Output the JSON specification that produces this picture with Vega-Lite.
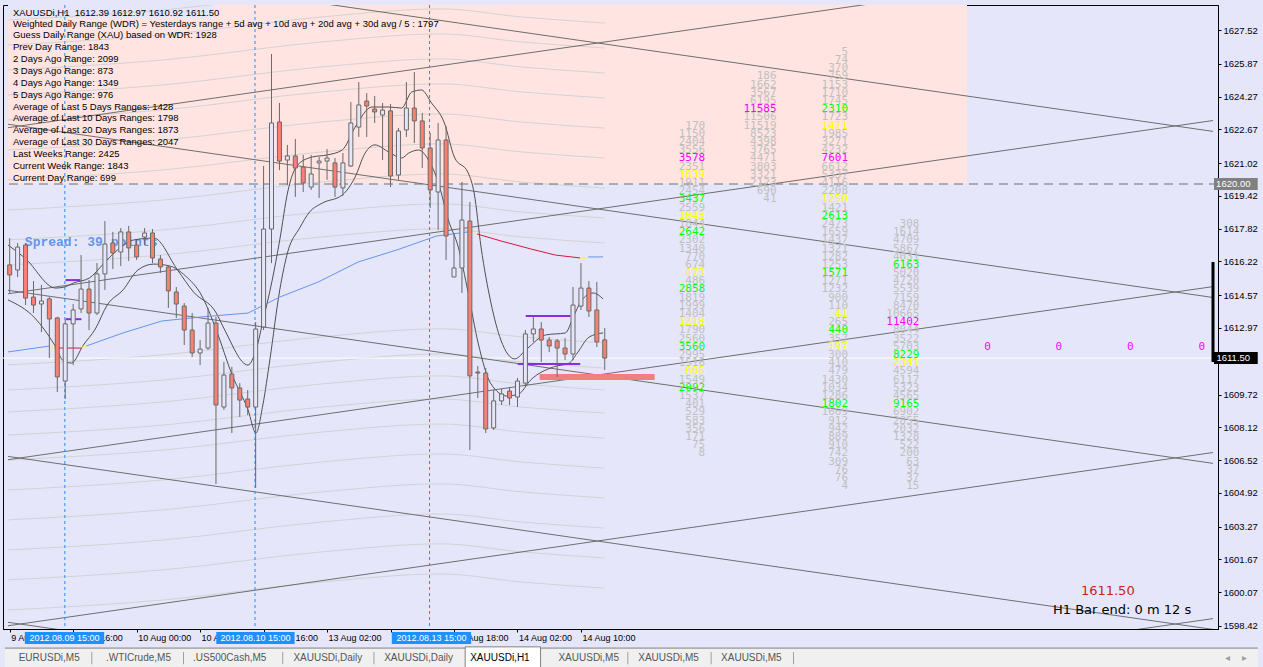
{
"$schema":"https://vega.github.io/schema/vega-lite/v6.json",
"width":1215,"height":624,
"autosize":{"type":"none"},
"padding":{"left":3,"top":5,"right":45,"bottom":38},
"background":"#E6E6FA",
"config":{"view":{"stroke":"#000000","strokeWidth":1,"fill":"#E6E6FA"},"text":{"font":"Liberation Sans"},"axis":{"labelOverlap":false,"labelBound":false,"labelFlush":false}},
"datasets":{
"candles":[
{"b":0,"o":1616.05,"h":1617.36,"l":1614.68,"c":1615.56},
{"b":1,"o":1615.80,"h":1617.12,"l":1615.46,"c":1616.92},
{"b":2,"o":1617.02,"h":1617.12,"l":1614.09,"c":1614.43},
{"b":3,"o":1614.48,"h":1615.26,"l":1613.70,"c":1614.09},
{"b":4,"o":1614.14,"h":1615.07,"l":1612.77,"c":1614.29},
{"b":5,"o":1614.39,"h":1614.48,"l":1611.50,"c":1613.41},
{"b":6,"o":1613.46,"h":1613.51,"l":1609.84,"c":1610.58},
{"b":7,"o":1610.38,"h":1613.36,"l":1609.50,"c":1613.17},
{"b":8,"o":1613.17,"h":1614.14,"l":1611.16,"c":1613.85},
{"b":9,"o":1613.90,"h":1616.53,"l":1613.70,"c":1614.87},
{"b":10,"o":1614.87,"h":1615.31,"l":1612.87,"c":1613.70},
{"b":11,"o":1613.70,"h":1616.14,"l":1613.60,"c":1615.61},
{"b":12,"o":1615.61,"h":1618.19,"l":1614.83,"c":1617.07},
{"b":13,"o":1617.12,"h":1617.66,"l":1615.85,"c":1616.63},
{"b":14,"o":1616.68,"h":1617.85,"l":1616.00,"c":1617.66},
{"b":15,"o":1617.66,"h":1617.95,"l":1616.24,"c":1616.88},
{"b":16,"o":1617.02,"h":1617.27,"l":1616.29,"c":1616.44},
{"b":17,"o":1617.41,"h":1617.85,"l":1617.02,"c":1617.61},
{"b":18,"o":1617.61,"h":1617.80,"l":1616.14,"c":1616.39},
{"b":19,"o":1616.34,"h":1616.53,"l":1615.66,"c":1615.95},
{"b":20,"o":1615.95,"h":1616.00,"l":1613.95,"c":1614.78},
{"b":21,"o":1614.73,"h":1614.97,"l":1613.46,"c":1614.14},
{"b":22,"o":1614.04,"h":1614.19,"l":1612.14,"c":1612.87},
{"b":23,"o":1612.87,"h":1613.70,"l":1611.55,"c":1611.75},
{"b":24,"o":1611.75,"h":1612.38,"l":1611.16,"c":1611.94},
{"b":25,"o":1611.99,"h":1613.95,"l":1611.90,"c":1613.21},
{"b":26,"o":1613.21,"h":1613.51,"l":1605.35,"c":1609.21},
{"b":27,"o":1609.11,"h":1611.31,"l":1608.97,"c":1610.67},
{"b":28,"o":1610.72,"h":1611.07,"l":1607.84,"c":1610.04},
{"b":29,"o":1610.04,"h":1610.28,"l":1608.62,"c":1609.45},
{"b":30,"o":1609.50,"h":1609.94,"l":1608.72,"c":1609.11},
{"b":31,"o":1609.11,"h":1613.26,"l":1605.16,"c":1612.92},
{"b":32,"o":1613.02,"h":1620.88,"l":1612.87,"c":1617.80},
{"b":33,"o":1617.80,"h":1626.35,"l":1616.14,"c":1622.98},
{"b":34,"o":1623.03,"h":1623.96,"l":1620.68,"c":1621.12},
{"b":35,"o":1621.17,"h":1621.91,"l":1619.95,"c":1621.37},
{"b":36,"o":1621.37,"h":1622.20,"l":1619.37,"c":1620.78},
{"b":37,"o":1620.83,"h":1621.42,"l":1619.61,"c":1620.05},
{"b":38,"o":1619.85,"h":1621.42,"l":1619.71,"c":1620.49},
{"b":39,"o":1621.03,"h":1621.32,"l":1619.32,"c":1621.12},
{"b":40,"o":1621.12,"h":1621.71,"l":1620.20,"c":1621.27},
{"b":41,"o":1621.03,"h":1621.27,"l":1619.37,"c":1619.85},
{"b":42,"o":1619.81,"h":1621.51,"l":1619.42,"c":1621.03},
{"b":43,"o":1620.88,"h":1624.00,"l":1620.83,"c":1622.98},
{"b":44,"o":1622.78,"h":1624.98,"l":1622.30,"c":1623.86},
{"b":45,"o":1624.05,"h":1624.44,"l":1622.30,"c":1623.81},
{"b":46,"o":1623.66,"h":1624.30,"l":1622.98,"c":1623.52},
{"b":47,"o":1623.37,"h":1623.96,"l":1621.17,"c":1623.61},
{"b":48,"o":1623.57,"h":1623.91,"l":1619.85,"c":1620.39},
{"b":49,"o":1620.44,"h":1622.74,"l":1620.20,"c":1622.59},
{"b":50,"o":1622.64,"h":1624.98,"l":1622.30,"c":1623.71},
{"b":51,"o":1623.71,"h":1625.47,"l":1622.00,"c":1623.08},
{"b":52,"o":1623.08,"h":1623.47,"l":1620.78,"c":1621.76},
{"b":53,"o":1621.76,"h":1622.49,"l":1618.83,"c":1619.71},
{"b":54,"o":1619.61,"h":1622.98,"l":1617.76,"c":1622.15},
{"b":55,"o":1622.15,"h":1622.83,"l":1616.29,"c":1617.46},
{"b":56,"o":1615.46,"h":1617.61,"l":1615.46,"c":1615.90},
{"b":57,"o":1615.90,"h":1620.10,"l":1614.68,"c":1618.24},
{"b":58,"o":1618.19,"h":1619.12,"l":1607.01,"c":1610.63},
{"b":59,"o":1610.82,"h":1611.11,"l":1609.55,"c":1610.77},
{"b":60,"o":1610.77,"h":1611.02,"l":1607.84,"c":1608.04},
{"b":61,"o":1608.09,"h":1609.94,"l":1607.99,"c":1609.41},
{"b":62,"o":1609.41,"h":1609.99,"l":1609.21,"c":1609.75},
{"b":63,"o":1609.89,"h":1610.09,"l":1609.21,"c":1609.55},
{"b":64,"o":1609.60,"h":1610.53,"l":1609.11,"c":1610.38},
{"b":65,"o":1610.28,"h":1612.87,"l":1610.09,"c":1612.68},
{"b":66,"o":1612.68,"h":1613.56,"l":1612.29,"c":1612.92},
{"b":67,"o":1612.92,"h":1613.26,"l":1611.31,"c":1612.38},
{"b":68,"o":1612.38,"h":1612.53,"l":1611.80,"c":1612.09},
{"b":69,"o":1612.34,"h":1612.43,"l":1610.58,"c":1611.99},
{"b":70,"o":1611.99,"h":1612.48,"l":1611.41,"c":1611.70},
{"b":71,"o":1611.70,"h":1614.97,"l":1611.41,"c":1614.09},
{"b":72,"o":1614.04,"h":1616.14,"l":1613.85,"c":1614.92},
{"b":73,"o":1614.92,"h":1615.26,"l":1613.51,"c":1613.80},
{"b":74,"o":1613.85,"h":1615.22,"l":1612.04,"c":1612.29},
{"b":75,"o":1612.39,"h":1612.97,"l":1610.92,"c":1611.50}
],
"bands":[
{"g":1,"b":-0.21,"p":1628.01},{"g":1,"b":19.4,"p":1628.50},{"g":1,"b":39.4,"p":1629.38},{"g":1,"b":54.4,"p":1629.77},{"g":1,"b":64.4,"p":1629.38},{"g":1,"b":75.0,"p":1629.08},
{"g":2,"b":-0.21,"p":1626.79},{"g":2,"b":19.4,"p":1627.28},{"g":2,"b":39.4,"p":1628.16},{"g":2,"b":54.4,"p":1628.55},{"g":2,"b":64.4,"p":1628.16},{"g":2,"b":75.0,"p":1627.86},
{"g":3,"b":-0.21,"p":1625.57},{"g":3,"b":19.4,"p":1626.06},{"g":3,"b":39.4,"p":1626.94},{"g":3,"b":54.4,"p":1627.33},{"g":3,"b":64.4,"p":1626.94},{"g":3,"b":75.0,"p":1626.64},
{"g":4,"b":-0.21,"p":1624.35},{"g":4,"b":19.4,"p":1624.84},{"g":4,"b":39.4,"p":1625.72},{"g":4,"b":54.4,"p":1626.11},{"g":4,"b":64.4,"p":1625.72},{"g":4,"b":75.0,"p":1625.42},
{"g":5,"b":-0.21,"p":1623.13},{"g":5,"b":19.4,"p":1623.62},{"g":5,"b":39.4,"p":1624.50},{"g":5,"b":54.4,"p":1624.89},{"g":5,"b":64.4,"p":1624.50},{"g":5,"b":75.0,"p":1624.20},
{"g":6,"b":-0.21,"p":1621.66},{"g":6,"b":19.4,"p":1622.15},{"g":6,"b":39.4,"p":1623.03},{"g":6,"b":54.4,"p":1623.42},{"g":6,"b":64.4,"p":1623.03},{"g":6,"b":75.0,"p":1622.73},
{"g":7,"b":-0.21,"p":1620.20},{"g":7,"b":19.4,"p":1620.69},{"g":7,"b":39.4,"p":1621.57},{"g":7,"b":54.4,"p":1621.96},{"g":7,"b":64.4,"p":1621.57},{"g":7,"b":75.0,"p":1621.27},
{"g":8,"b":-0.21,"p":1618.73},{"g":8,"b":19.4,"p":1619.22},{"g":8,"b":39.4,"p":1620.10},{"g":8,"b":54.4,"p":1620.49},{"g":8,"b":64.4,"p":1620.10},{"g":8,"b":75.0,"p":1619.80},
{"g":9,"b":-0.21,"p":1617.27},{"g":9,"b":19.4,"p":1617.76},{"g":9,"b":39.4,"p":1618.64},{"g":9,"b":54.4,"p":1619.03},{"g":9,"b":64.4,"p":1618.64},{"g":9,"b":75.0,"p":1618.34},
{"g":10,"b":-0.21,"p":1616.05},{"g":10,"b":19.4,"p":1616.54},{"g":10,"b":39.4,"p":1617.42},{"g":10,"b":54.4,"p":1617.81},{"g":10,"b":64.4,"p":1617.42},{"g":10,"b":75.0,"p":1617.12},
{"g":11,"b":-0.21,"p":1611.17},{"g":11,"b":19.4,"p":1611.66},{"g":11,"b":39.4,"p":1612.54},{"g":11,"b":54.4,"p":1612.93},{"g":11,"b":64.4,"p":1612.54},{"g":11,"b":75.0,"p":1612.24},
{"g":12,"b":-0.21,"p":1609.94},{"g":12,"b":19.4,"p":1610.43},{"g":12,"b":39.4,"p":1611.31},{"g":12,"b":54.4,"p":1611.70},{"g":12,"b":64.4,"p":1611.31},{"g":12,"b":75.0,"p":1611.01},
{"g":13,"b":-0.21,"p":1608.87},{"g":13,"b":19.4,"p":1609.36},{"g":13,"b":39.4,"p":1610.24},{"g":13,"b":54.4,"p":1610.63},{"g":13,"b":64.4,"p":1610.24},{"g":13,"b":75.0,"p":1609.94},
{"g":14,"b":-0.21,"p":1607.74},{"g":14,"b":19.4,"p":1608.23},{"g":14,"b":39.4,"p":1609.11},{"g":14,"b":54.4,"p":1609.50},{"g":14,"b":64.4,"p":1609.11},{"g":14,"b":75.0,"p":1608.81},
{"g":15,"b":-0.21,"p":1606.52},{"g":15,"b":19.4,"p":1607.01},{"g":15,"b":39.4,"p":1607.89},{"g":15,"b":54.4,"p":1608.28},{"g":15,"b":64.4,"p":1607.89},{"g":15,"b":75.0,"p":1607.59},
{"g":16,"b":-0.21,"p":1605.06},{"g":16,"b":19.4,"p":1605.55},{"g":16,"b":39.4,"p":1606.43},{"g":16,"b":54.4,"p":1606.82},{"g":16,"b":64.4,"p":1606.43},{"g":16,"b":75.0,"p":1606.13},
{"g":17,"b":-0.21,"p":1603.60},{"g":17,"b":19.4,"p":1604.09},{"g":17,"b":39.4,"p":1604.97},{"g":17,"b":54.4,"p":1605.36},{"g":17,"b":64.4,"p":1604.97},{"g":17,"b":75.0,"p":1604.67},
{"g":18,"b":-0.21,"p":1602.13},{"g":18,"b":19.4,"p":1602.62},{"g":18,"b":39.4,"p":1603.50},{"g":18,"b":54.4,"p":1603.89},{"g":18,"b":64.4,"p":1603.50},{"g":18,"b":75.0,"p":1603.20},
{"g":19,"b":-0.21,"p":1600.67},{"g":19,"b":19.4,"p":1601.16},{"g":19,"b":39.4,"p":1602.04},{"g":19,"b":54.4,"p":1602.43},{"g":19,"b":64.4,"p":1602.04},{"g":19,"b":75.0,"p":1601.74},
{"g":20,"b":-0.21,"p":1599.20},{"g":20,"b":19.4,"p":1599.69},{"g":20,"b":39.4,"p":1600.57},{"g":20,"b":54.4,"p":1600.96},{"g":20,"b":64.4,"p":1600.57},{"g":20,"b":75.0,"p":1600.27}
],
"gl":[
{"id":"r1","b":-0.2125,"p":1622.75},{"id":"r1","b":151.6625,"p":1631.20},
{"id":"r2","b":-0.2125,"p":1614.64},{"id":"r2","b":151.6625,"p":1623.10},
{"id":"r3","b":-0.2125,"p":1606.54},{"id":"r3","b":151.6625,"p":1614.99},
{"id":"r4","b":-0.2125,"p":1598.43},{"id":"r4","b":151.6625,"p":1606.89},
{"id":"r5","b":-0.2125,"p":1590.33},{"id":"r5","b":151.6625,"p":1598.78},
{"id":"f1","b":-0.2125,"p":1631.02},{"id":"f1","b":151.6625,"p":1622.57},
{"id":"f2","b":-0.2125,"p":1622.92},{"id":"f2","b":151.6625,"p":1614.46},
{"id":"f3","b":-0.2125,"p":1614.81},{"id":"f3","b":151.6625,"p":1606.36},
{"id":"f4","b":-0.2125,"p":1606.70},{"id":"f4","b":151.6625,"p":1598.25},
{"id":"f5","b":-0.2125,"p":1598.60},{"id":"f5","b":151.6625,"p":1590.15}
],
"ma":[
{"s":"U","b":-0.21,"p":1617.02},{"s":"U","b":1.91,"p":1616.39},{"s":"U","b":5.79,"p":1614.92},{"s":"U","b":6.91,"p":1614.97},{"s":"U","b":8.04,"p":1615.17},{"s":"U","b":10.04,"p":1615.41},{"s":"U","b":11.79,"p":1616.09},{"s":"U","b":13.29,"p":1616.68},{"s":"U","b":15.66,"p":1617.27},{"s":"U","b":18.16,"p":1617.36},{"s":"U","b":21.16,"p":1615.80},{"s":"U","b":23.16,"p":1614.73},{"s":"U","b":26.04,"p":1613.70},{"s":"U","b":27.04,"p":1612.92},{"s":"U","b":30.04,"p":1611.16},{"s":"U","b":31.04,"p":1611.90},{"s":"U","b":32.04,"p":1613.51},{"s":"U","b":33.04,"p":1615.22},{"s":"U","b":34.04,"p":1617.27},{"s":"U","b":35.04,"p":1619.61},{"s":"U","b":36.29,"p":1620.93},{"s":"U","b":38.16,"p":1621.32},{"s":"U","b":40.04,"p":1621.42},{"s":"U","b":41.91,"p":1621.66},{"s":"U","b":43.54,"p":1622.78},{"s":"U","b":45.66,"p":1623.76},{"s":"U","b":47.79,"p":1623.76},{"s":"U","b":49.41,"p":1623.71},{"s":"U","b":50.66,"p":1624.49},{"s":"U","b":51.91,"p":1624.59},{"s":"U","b":53.16,"p":1623.96},{"s":"U","b":54.79,"p":1622.98},{"s":"U","b":56.04,"p":1621.32},{"s":"U","b":57.79,"p":1620.54},{"s":"U","b":58.54,"p":1619.56},{"s":"U","b":59.41,"p":1616.92},{"s":"U","b":60.66,"p":1614.19},{"s":"U","b":61.91,"p":1612.38},{"s":"U","b":63.66,"p":1611.46},{"s":"U","b":65.16,"p":1611.94},{"s":"U","b":67.54,"p":1612.63},{"s":"U","b":70.04,"p":1612.73},{"s":"U","b":71.04,"p":1613.51},{"s":"U","b":72.04,"p":1614.29},{"s":"U","b":73.54,"p":1614.68},{"s":"U","b":74.79,"p":1614.39},
{"s":"L","b":-0.21,"p":1614.34},{"s":"L","b":3.16,"p":1613.46},{"s":"L","b":5.66,"p":1612.14},{"s":"L","b":6.79,"p":1611.36},{"s":"L","b":7.79,"p":1611.26},{"s":"L","b":9.29,"p":1612.14},{"s":"L","b":10.79,"p":1612.92},{"s":"L","b":12.29,"p":1614.09},{"s":"L","b":14.29,"p":1614.83},{"s":"L","b":16.16,"p":1615.80},{"s":"L","b":18.16,"p":1616.09},{"s":"L","b":20.16,"p":1616.00},{"s":"L","b":22.16,"p":1615.51},{"s":"L","b":24.16,"p":1614.58},{"s":"L","b":26.04,"p":1612.87},{"s":"L","b":28.04,"p":1610.67},{"s":"L","b":30.04,"p":1608.97},{"s":"L","b":31.04,"p":1607.84},{"s":"L","b":31.91,"p":1609.21},{"s":"L","b":32.79,"p":1611.41},{"s":"L","b":34.04,"p":1614.83},{"s":"L","b":35.04,"p":1616.68},{"s":"L","b":36.54,"p":1617.85},{"s":"L","b":37.79,"p":1618.63},{"s":"L","b":39.41,"p":1619.07},{"s":"L","b":41.91,"p":1619.46},{"s":"L","b":43.54,"p":1620.34},{"s":"L","b":44.79,"p":1621.51},{"s":"L","b":46.04,"p":1621.91},{"s":"L","b":47.79,"p":1621.56},{"s":"L","b":49.41,"p":1621.27},{"s":"L","b":50.29,"p":1621.51},{"s":"L","b":51.54,"p":1621.66},{"s":"L","b":52.79,"p":1621.17},{"s":"L","b":54.04,"p":1620.05},{"s":"L","b":55.29,"p":1618.24},{"s":"L","b":56.54,"p":1616.92},{"s":"L","b":57.79,"p":1614.68},{"s":"L","b":59.04,"p":1612.24},{"s":"L","b":60.66,"p":1610.24},{"s":"L","b":62.66,"p":1609.65},{"s":"L","b":64.16,"p":1609.75},{"s":"L","b":65.66,"p":1610.43},{"s":"L","b":68.54,"p":1611.07},{"s":"L","b":70.54,"p":1611.26},{"s":"L","b":71.54,"p":1611.75},{"s":"L","b":73.04,"p":1612.53},{"s":"L","b":74.79,"p":1612.73}
],
"bma":[
{"s":1,"k":"b","b":-0.2125,"p":1611.80},{"s":1,"k":"b","b":5.04,"p":1612.09},
{"s":2,"k":"y","b":5.04,"p":1612.04},{"s":2,"k":"y","b":5.66,"p":1612.04},
{"s":3,"k":"r","b":5.66,"p":1611.99},{"s":3,"k":"r","b":9.04,"p":1611.99},
{"s":4,"k":"y","b":9.04,"p":1612.04},{"s":4,"k":"y","b":9.66,"p":1612.04},
{"s":5,"k":"b","b":9.66,"p":1612.09},{"s":5,"k":"b","b":14.29,"p":1612.73},{"s":5,"k":"b","b":19.16,"p":1613.31},{"s":5,"k":"b","b":24.16,"p":1613.51},{"s":5,"k":"b","b":30.04,"p":1613.70},{"s":5,"k":"b","b":32.04,"p":1614.09},{"s":5,"k":"b","b":34.04,"p":1614.48},{"s":5,"k":"b","b":38.91,"p":1615.22},{"s":5,"k":"b","b":43.91,"p":1616.19},{"s":5,"k":"b","b":48.79,"p":1616.78},{"s":5,"k":"b","b":53.79,"p":1617.46},{"s":5,"k":"b","b":57.79,"p":1617.66},{"s":5,"k":"b","b":58.29,"p":1617.66},
{"s":6,"k":"y","b":58.29,"p":1617.61},{"s":6,"k":"y","b":58.91,"p":1617.56},
{"s":7,"k":"r","b":58.91,"p":1617.56},{"s":7,"k":"r","b":61.91,"p":1617.22},{"s":7,"k":"r","b":65.66,"p":1616.83},{"s":7,"k":"r","b":68.79,"p":1616.53},{"s":7,"k":"r","b":71.91,"p":1616.39},
{"s":8,"k":"y","b":71.91,"p":1616.39},{"s":8,"k":"y","b":72.79,"p":1616.39},
{"s":9,"k":"b","b":72.91,"p":1616.44},{"s":9,"k":"b","b":74.79,"p":1616.44}
],
"vol":[
{"b":87.66,"p":1622.85,"v":"170","c":"g"},{"b":87.66,"p":1622.45,"v":"1150","c":"g"},{"b":87.66,"p":1622.05,"v":"2404","c":"g"},{"b":87.66,"p":1621.65,"v":"3556","c":"g"},{"b":87.66,"p":1621.25,"v":"3578","c":"m"},{"b":87.66,"p":1620.85,"v":"2351","c":"g"},{"b":87.66,"p":1620.45,"v":"1839","c":"y"},{"b":87.66,"p":1620.05,"v":"1911","c":"g"},{"b":87.66,"p":1619.65,"v":"2454","c":"g"},{"b":87.66,"p":1619.25,"v":"3437","c":"l"},{"b":87.66,"p":1618.85,"v":"2559","c":"g"},{"b":87.66,"p":1618.45,"v":"1043","c":"y"},{"b":87.66,"p":1618.05,"v":"1844","c":"g"},{"b":87.66,"p":1617.65,"v":"2642","c":"l"},{"b":87.66,"p":1617.25,"v":"2302","c":"g"},{"b":87.66,"p":1616.85,"v":"1340","c":"g"},{"b":87.66,"p":1616.45,"v":"770","c":"g"},{"b":87.66,"p":1616.05,"v":"674","c":"g"},{"b":87.66,"p":1615.65,"v":"473","c":"y"},{"b":87.66,"p":1615.25,"v":"486","c":"g"},{"b":87.66,"p":1614.85,"v":"2858","c":"l"},{"b":87.66,"p":1614.45,"v":"1819","c":"g"},{"b":87.66,"p":1614.05,"v":"1999","c":"g"},{"b":87.66,"p":1613.65,"v":"1404","c":"g"},{"b":87.66,"p":1613.25,"v":"1218","c":"y"},{"b":87.66,"p":1612.85,"v":"1790","c":"g"},{"b":87.66,"p":1612.45,"v":"2560","c":"g"},{"b":87.66,"p":1612.05,"v":"3560","c":"l"},{"b":87.66,"p":1611.65,"v":"2995","c":"g"},{"b":87.66,"p":1611.25,"v":"1516","c":"g"},{"b":87.66,"p":1610.85,"v":"606","c":"y"},{"b":87.66,"p":1610.45,"v":"1549","c":"g"},{"b":87.66,"p":1610.05,"v":"2092","c":"l"},{"b":87.66,"p":1609.65,"v":"1537","c":"g"},{"b":87.66,"p":1609.25,"v":"401","c":"g"},{"b":87.66,"p":1608.85,"v":"529","c":"g"},{"b":87.66,"p":1608.45,"v":"583","c":"g"},{"b":87.66,"p":1608.05,"v":"356","c":"g"},{"b":87.66,"p":1607.65,"v":"171","c":"g"},{"b":87.66,"p":1607.25,"v":"75","c":"g"},{"b":87.66,"p":1606.85,"v":"8","c":"g"},
{"b":96.66,"p":1625.25,"v":"186","c":"g"},{"b":96.66,"p":1624.85,"v":"1662","c":"g"},{"b":96.66,"p":1624.45,"v":"3567","c":"g"},{"b":96.66,"p":1624.05,"v":"6195","c":"g"},{"b":96.66,"p":1623.65,"v":"11585","c":"m"},{"b":96.66,"p":1623.25,"v":"11506","c":"g"},{"b":96.66,"p":1622.85,"v":"11519","c":"g"},{"b":96.66,"p":1622.45,"v":"8523","c":"g"},{"b":96.66,"p":1622.05,"v":"4398","c":"g"},{"b":96.66,"p":1621.65,"v":"3765","c":"g"},{"b":96.66,"p":1621.25,"v":"4471","c":"g"},{"b":96.66,"p":1620.85,"v":"3803","c":"g"},{"b":96.66,"p":1620.45,"v":"3321","c":"g"},{"b":96.66,"p":1620.05,"v":"2123","c":"g"},{"b":96.66,"p":1619.65,"v":"690","c":"g"},{"b":96.66,"p":1619.25,"v":"41","c":"g"},
{"b":105.66,"p":1626.45,"v":"5","c":"g"},{"b":105.66,"p":1626.05,"v":"74","c":"g"},{"b":105.66,"p":1625.65,"v":"370","c":"g"},{"b":105.66,"p":1625.25,"v":"759","c":"g"},{"b":105.66,"p":1624.85,"v":"1153","c":"g"},{"b":105.66,"p":1624.45,"v":"1710","c":"g"},{"b":105.66,"p":1624.05,"v":"1745","c":"g"},{"b":105.66,"p":1623.65,"v":"2310","c":"l"},{"b":105.66,"p":1623.25,"v":"1723","c":"g"},{"b":105.66,"p":1622.85,"v":"1471","c":"y"},{"b":105.66,"p":1622.45,"v":"1985","c":"g"},{"b":105.66,"p":1622.05,"v":"3271","c":"g"},{"b":105.66,"p":1621.65,"v":"4232","c":"g"},{"b":105.66,"p":1621.25,"v":"7601","c":"m"},{"b":105.66,"p":1620.85,"v":"6612","c":"g"},{"b":105.66,"p":1620.45,"v":"5337","c":"g"},{"b":105.66,"p":1620.05,"v":"4116","c":"g"},{"b":105.66,"p":1619.65,"v":"2208","c":"g"},{"b":105.66,"p":1619.25,"v":"1250","c":"y"},{"b":105.66,"p":1618.85,"v":"1421","c":"g"},{"b":105.66,"p":1618.45,"v":"2613","c":"l"},{"b":105.66,"p":1618.05,"v":"2473","c":"g"},{"b":105.66,"p":1617.65,"v":"1659","c":"g"},{"b":105.66,"p":1617.25,"v":"1437","c":"g"},{"b":105.66,"p":1616.85,"v":"1321","c":"g"},{"b":105.66,"p":1616.45,"v":"1282","c":"g"},{"b":105.66,"p":1616.05,"v":"1253","c":"g"},{"b":105.66,"p":1615.65,"v":"1571","c":"l"},{"b":105.66,"p":1615.25,"v":"1271","c":"g"},{"b":105.66,"p":1614.85,"v":"1232","c":"g"},{"b":105.66,"p":1614.45,"v":"900","c":"g"},{"b":105.66,"p":1614.05,"v":"110","c":"g"},{"b":105.66,"p":1613.65,"v":"41","c":"y"},{"b":105.66,"p":1613.25,"v":"265","c":"g"},{"b":105.66,"p":1612.85,"v":"440","c":"l"},{"b":105.66,"p":1612.45,"v":"357","c":"g"},{"b":105.66,"p":1612.05,"v":"197","c":"y"},{"b":105.66,"p":1611.65,"v":"300","c":"g"},{"b":105.66,"p":1611.25,"v":"410","c":"g"},{"b":105.66,"p":1610.85,"v":"479","c":"g"},{"b":105.66,"p":1610.45,"v":"1430","c":"g"},{"b":105.66,"p":1610.05,"v":"1034","c":"g"},{"b":105.66,"p":1609.65,"v":"1286","c":"g"},{"b":105.66,"p":1609.25,"v":"1802","c":"l"},{"b":105.66,"p":1608.85,"v":"1669","c":"g"},{"b":105.66,"p":1608.45,"v":"912","c":"g"},{"b":105.66,"p":1608.05,"v":"942","c":"g"},{"b":105.66,"p":1607.65,"v":"889","c":"g"},{"b":105.66,"p":1607.25,"v":"910","c":"g"},{"b":105.66,"p":1606.85,"v":"742","c":"g"},{"b":105.66,"p":1606.45,"v":"309","c":"g"},{"b":105.66,"p":1606.05,"v":"76","c":"g"},{"b":105.66,"p":1605.65,"v":"76","c":"g"},{"b":105.66,"p":1605.25,"v":"4","c":"g"},
{"b":114.66,"p":1618.05,"v":"308","c":"g"},{"b":114.66,"p":1617.65,"v":"1614","c":"g"},{"b":114.66,"p":1617.25,"v":"4709","c":"g"},{"b":114.66,"p":1616.85,"v":"5867","c":"g"},{"b":114.66,"p":1616.45,"v":"4031","c":"g"},{"b":114.66,"p":1616.05,"v":"6163","c":"l"},{"b":114.66,"p":1615.65,"v":"5020","c":"g"},{"b":114.66,"p":1615.25,"v":"4720","c":"g"},{"b":114.66,"p":1614.85,"v":"5539","c":"g"},{"b":114.66,"p":1614.45,"v":"7159","c":"g"},{"b":114.66,"p":1614.05,"v":"8470","c":"g"},{"b":114.66,"p":1613.65,"v":"10665","c":"g"},{"b":114.66,"p":1613.25,"v":"11402","c":"m"},{"b":114.66,"p":1612.85,"v":"8044","c":"g"},{"b":114.66,"p":1612.45,"v":"3522","c":"g"},{"b":114.66,"p":1612.05,"v":"5703","c":"g"},{"b":114.66,"p":1611.65,"v":"8229","c":"l"},{"b":114.66,"p":1611.25,"v":"2341","c":"y"},{"b":114.66,"p":1610.85,"v":"4594","c":"g"},{"b":114.66,"p":1610.45,"v":"6117","c":"g"},{"b":114.66,"p":1610.05,"v":"5323","c":"g"},{"b":114.66,"p":1609.65,"v":"4565","c":"g"},{"b":114.66,"p":1609.25,"v":"9165","c":"l"},{"b":114.66,"p":1608.85,"v":"6902","c":"g"},{"b":114.66,"p":1608.45,"v":"2855","c":"g"},{"b":114.66,"p":1608.05,"v":"2032","c":"g"},{"b":114.66,"p":1607.65,"v":"1328","c":"g"},{"b":114.66,"p":1607.25,"v":"522","c":"g"},{"b":114.66,"p":1606.85,"v":"200","c":"g"},{"b":114.66,"p":1606.45,"v":"63","c":"g"},{"b":114.66,"p":1606.05,"v":"37","c":"g"},{"b":114.66,"p":1605.65,"v":"37","c":"g"},{"b":114.66,"p":1605.25,"v":"15","c":"g"},
{"b":123.66,"p":1612.05,"v":"0","c":"m"},{"b":132.66,"p":1612.05,"v":"0","c":"m"},{"b":141.66,"p":1612.05,"v":"0","c":"m"},{"b":150.66,"p":1612.05,"v":"0","c":"m"}
],
"info":[
{"b":0.41,"p":1628.35,"t":"XAUUSDi,H1\u00a0 1612.39 1612.97 1610.92 1611.50"},
{"b":0.41,"p":1627.83,"t":"Weighted Daily Range (WDR) = Yesterdays range + 5d avg + 10d avg + 20d avg + 30d avg / 5 : 1797"},
{"b":0.41,"p":1627.26,"t":"Guess Daily Range (XAU) based on WDR: 1928"},
{"b":0.41,"p":1626.68,"t":"Prev Day Range: 1843"},
{"b":0.41,"p":1626.10,"t":"2 Days Ago Range: 2099"},
{"b":0.41,"p":1625.52,"t":"3 Days Ago Range: 873"},
{"b":0.41,"p":1624.94,"t":"4 Days Ago Range: 1349"},
{"b":0.41,"p":1624.36,"t":"5 Days Ago Range: 976"},
{"b":0.41,"p":1623.78,"t":"Average of Last 5 Days Ranges: 1428"},
{"b":0.41,"p":1623.20,"t":"Average of Last 10 Days Ranges: 1798"},
{"b":0.41,"p":1622.62,"t":"Average of Last 20 Days Ranges: 1873"},
{"b":0.41,"p":1622.04,"t":"Average of Last 30 Days Ranges: 2047"},
{"b":0.41,"p":1621.47,"t":"Last Weeks Range: 2425"},
{"b":0.41,"p":1620.88,"t":"Current Week Range: 1843"},
{"b":0.41,"p":1620.31,"t":"Current Day Range: 699"}
],
"pbox":[
{"b":151.79,"b2":157.3,"p":1620.29,"p2":1619.71,"m":154.22,"q":1620.0,"t":"1620.00","k":"g"},
{"b":151.79,"b2":157.3,"p":1611.80,"p2":1611.21,"m":154.22,"q":1611.5,"t":"1611.50","k":"k"}
],
"tbox":[
{"b":1.91,"b2":11.91,"m":6.91,"p":1598.13,"p2":1597.54,"q":1597.83,"t":"2012.08.09 15:00"},
{"b":26.04,"b2":35.91,"m":30.98,"p":1598.13,"p2":1597.54,"q":1597.83,"t":"2012.08.10 15:00"},
{"b":48.16,"b2":58.16,"m":53.16,"p":1598.13,"p2":1597.54,"q":1597.83,"t":"2012.08.13 15:00"}
],
"tabs":[
{"m":4.98,"t":"EURUSDi,M5","a":0},{"m":16.23,"t":".WTICrude,M5","a":0},{"m":27.73,"t":".US500Cash,M5","a":0},{"m":40.1,"t":"XAUUSDi,Daily","a":0},{"m":51.54,"t":"XAUUSDi,Daily","a":0},{"m":61.79,"t":"XAUUSDi,H1","a":1},{"m":72.98,"t":"XAUUSDi,M5","a":0},{"m":83.04,"t":"XAUUSDi,M5","a":0},{"m":93.48,"t":"XAUUSDi,M5","a":0},{"m":153.54,"t":"◂","a":2},{"m":155.66,"t":"▸","a":2}
]
},
"layer":[
{"data":{"values":[{"b":-0.2125,"b2":120.66,"p":1620,"p2":1628.741}]},
 "mark":{"type":"rect","fill":"#FFE4E1"},
 "encoding":{
  "x":{"field":"b","type":"quantitative","scale":{"domain":[-0.2125,151.6625]},"title":null,
   "axis":{"orient":"bottom","values":[0,8,16,24,32,40,48,56,64,72],"tickCount":40,
    "labelExpr":"['9 Aug 08:00','9 Aug 16:00','10 Aug 00:00','10 Aug 08:00','10 Aug 16:00','13 Aug 02:00','13 Aug 10:00','13 Aug 18:00','14 Aug 02:00','14 Aug 10:00'][datum.value/8]",
    "labelAlign":"left","labelBaseline":"top","labelOffset":1,"labelPadding":1,"tickSize":3,"tickColor":"#000000","domainColor":"#000000","labelColor":"#000000","labelFont":"Liberation Sans","labelFontSize":9,"labelOverlap":false,"labelBound":false,"labelFlush":false,"grid":false,"zindex":0}},
  "x2":{"field":"b2"},
  "y":{"field":"p","type":"quantitative","scale":{"domain":[1598.272,1628.741]},"title":null,
   "axis":{"orient":"right","values":[1598.42,1600.07,1601.67,1603.27,1604.92,1606.52,1608.12,1609.72,1611.37,1612.97,1614.57,1616.22,1617.82,1619.42,1621.02,1622.67,1624.27,1625.87,1627.52],"tickCount":40,
    "format":".2f","tickSize":3,"tickColor":"#000000","domainColor":"#000000","labelColor":"#000000","labelFont":"Liberation Sans","labelFontSize":9.5,"labelPadding":2,"labelOverlap":false,"labelBound":false,"labelFlush":false,"grid":false,"zindex":0}},
  "y2":{"field":"p2"}}},
{"data":{"values":[{"b":-0.2125,"b2":25.8,"p":1628.11,"p2":1628.741}]},
 "mark":{"type":"rect","fill":"#E6E6FA"},
 "encoding":{"x":{"field":"b","type":"quantitative","scale":{"domain":[-0.2125,151.6625]},"title":null},"x2":{"field":"b2"},"y":{"field":"p","type":"quantitative","scale":{"domain":[1598.272,1628.741]},"title":null},"y2":{"field":"p2"}}},
{"data":{"name":"bands"},
 "mark":{"type":"line","stroke":"#D3D3D3","strokeWidth":1,"interpolate":"monotone","clip":true},
 "encoding":{"x":{"field":"b","type":"quantitative","scale":{"domain":[-0.2125,151.6625]},"title":null},"y":{"field":"p","type":"quantitative","scale":{"domain":[1598.272,1628.741]},"title":null},"detail":{"field":"g","type":"nominal"}}},
{"data":{"values":[{"p":1611.5}]},
 "mark":{"type":"rule","stroke":"#FFFFFF","strokeWidth":1},
 "encoding":{"y":{"field":"p","type":"quantitative","scale":{"domain":[1598.272,1628.741]},"title":null}}},
{"data":{"name":"gl"},
 "mark":{"type":"line","stroke":"#6E6E6E","strokeWidth":1,"clip":true},
 "encoding":{"x":{"field":"b","type":"quantitative","scale":{"domain":[-0.2125,151.6625]},"title":null},"y":{"field":"p","type":"quantitative","scale":{"domain":[1598.272,1628.741]},"title":null},"detail":{"field":"id","type":"nominal"}}},
{"data":{"values":[{"p":1620}]},
 "mark":{"type":"rule","stroke":"#6E6E6E","strokeWidth":1,"strokeDash":[9,6]},
 "encoding":{"y":{"field":"p","type":"quantitative","scale":{"domain":[1598.272,1628.741]},"title":null}}},
{"data":{"values":[{"b":6.95},{"b":30.92},{"b":52.92}]},
 "mark":{"type":"rule","stroke":"#1E90FF","strokeWidth":1,"strokeDash":[3,3]},
 "encoding":{"x":{"field":"b","type":"quantitative","scale":{"domain":[-0.2125,151.6625]},"title":null}}},
{"data":{"name":"info"},
 "mark":{"type":"text","align":"left","baseline":"middle","font":"Liberation Sans","fontSize":9.5,"fill":"#000000"},
 "encoding":{"x":{"field":"b","type":"quantitative","scale":{"domain":[-0.2125,151.6625]},"title":null},"y":{"field":"p","type":"quantitative","scale":{"domain":[1598.272,1628.741]},"title":null},"text":{"field":"t"}}},
{"data":{"values":[{"b":1.91,"p":1617.16,"t":"Spread: 39 points"}]},
 "mark":{"type":"text","align":"left","baseline":"middle","font":"Liberation Mono","fontSize":13,"fontWeight":"bold","fill":"#6495ED"},
 "encoding":{"x":{"field":"b","type":"quantitative","scale":{"domain":[-0.2125,151.6625]},"title":null},"y":{"field":"p","type":"quantitative","scale":{"domain":[1598.272,1628.741]},"title":null},"text":{"field":"t"}}},
{"data":{"name":"vol"},
 "mark":{"type":"text","align":"right","baseline":"middle","font":"DejaVu Sans Mono","fontSize":11},
 "encoding":{"x":{"field":"b","type":"quantitative","scale":{"domain":[-0.2125,151.6625]},"title":null},"y":{"field":"p","type":"quantitative","scale":{"domain":[1598.272,1628.741]},"title":null},"text":{"field":"v"},
  "fill":{"field":"c","type":"nominal","scale":{"domain":["g","m","y","l"],"range":["#C0C0C0","#FF00FF","#FFFF00","#00FF00"]},"legend":null}}},
{"data":{"name":"ma"},
 "mark":{"type":"line","stroke":"#505050","strokeWidth":1,"interpolate":"monotone"},
 "encoding":{"x":{"field":"b","type":"quantitative","scale":{"domain":[-0.2125,151.6625]},"title":null},"y":{"field":"p","type":"quantitative","scale":{"domain":[1598.272,1628.741]},"title":null},"detail":{"field":"s","type":"nominal"}}},
{"data":{"name":"bma"},
 "mark":{"type":"line","strokeWidth":1},
 "encoding":{"x":{"field":"b","type":"quantitative","scale":{"domain":[-0.2125,151.6625]},"title":null},"y":{"field":"p","type":"quantitative","scale":{"domain":[1598.272,1628.741]},"title":null},"detail":{"field":"s","type":"nominal"},
  "stroke":{"field":"k","type":"nominal","scale":{"domain":["b","y","r"],"range":["#6495ED","#FFFF00","#DC143C"]},"legend":null}}},
{"data":{"values":[
  {"s":1,"b":7.04,"p":1615.31},{"s":1,"b":8.91,"p":1615.31},
  {"s":2,"b":7.04,"p":1613.40},{"s":2,"b":9.04,"p":1613.40},
  {"s":3,"b":65.04,"p":1613.56},{"s":3,"b":70.66,"p":1613.56},
  {"s":4,"b":64.04,"p":1611.21},{"s":4,"b":71.91,"p":1611.21}]},
 "mark":{"type":"line","stroke":"#8A2BE2","strokeWidth":2},
 "encoding":{"x":{"field":"b","type":"quantitative","scale":{"domain":[-0.2125,151.6625]},"title":null},"y":{"field":"p","type":"quantitative","scale":{"domain":[1598.272,1628.741]},"title":null},"detail":{"field":"s","type":"nominal"}}},
{"data":{"values":[{"b":66.79,"b2":81.29,"p":1610.72,"p2":1610.43}]},
 "mark":{"type":"rect","fill":"#F08080"},
 "encoding":{"x":{"field":"b","type":"quantitative","scale":{"domain":[-0.2125,151.6625]},"title":null},"x2":{"field":"b2"},"y":{"field":"p","type":"quantitative","scale":{"domain":[1598.272,1628.741]},"title":null},"y2":{"field":"p2"}}},
{"data":{"name":"candles"},
 "mark":{"type":"rule","stroke":"#696969","strokeWidth":1,"clip":true},
 "encoding":{"x":{"field":"b","type":"quantitative","scale":{"domain":[-0.2125,151.6625]},"title":null},"y":{"field":"l","type":"quantitative","scale":{"domain":[1598.272,1628.741]},"title":null},"y2":{"field":"h"}}},
{"data":{"name":"candles"},
 "mark":{"type":"bar","width":4,"stroke":"#696969","strokeWidth":1,"clip":true},
 "encoding":{"x":{"field":"b","type":"quantitative","scale":{"domain":[-0.2125,151.6625]},"title":null},"y":{"field":"o","type":"quantitative","scale":{"domain":[1598.272,1628.741]},"title":null},"y2":{"field":"c"},
  "fill":{"condition":{"test":"datum.c < datum.o","value":"#FA8072"},"value":"#E6E6FA"}}},
{"data":{"values":[{"b":138.4,"p":1600.13,"t":"1611.50","k":"r"},{"b":140.2,"p":1599.2,"t":"H1 Bar end: 0 m 12 s","k":"k"}]},
 "mark":{"type":"text","align":"center","baseline":"middle","font":"DejaVu Sans","fontSize":13},
 "encoding":{"x":{"field":"b","type":"quantitative","scale":{"domain":[-0.2125,151.6625]},"title":null},"y":{"field":"p","type":"quantitative","scale":{"domain":[1598.272,1628.741]},"title":null},"text":{"field":"t"},
  "fill":{"condition":{"test":"datum.k=='r'","value":"#C81E1E"},"value":"#000000"}}},
{"data":{"values":[{"b":151.6625,"p":1611.31,"p2":1616.19}]},
 "mark":{"type":"rule","stroke":"#000000","strokeWidth":3},
 "encoding":{"x":{"field":"b","type":"quantitative","scale":{"domain":[-0.2125,151.6625]},"title":null},"y":{"field":"p","type":"quantitative","scale":{"domain":[1598.272,1628.741]},"title":null},"y2":{"field":"p2"}}},
{"data":{"name":"pbox"},
 "mark":{"type":"rect"},
 "encoding":{"x":{"field":"b","type":"quantitative","scale":{"domain":[-0.2125,151.6625]},"title":null},"x2":{"field":"b2"},"y":{"field":"p","type":"quantitative","scale":{"domain":[1598.272,1628.741]},"title":null},"y2":{"field":"p2"},
  "fill":{"condition":{"test":"datum.k=='g'","value":"#808080"},"value":"#000000"}}},
{"data":{"name":"pbox"},
 "mark":{"type":"text","align":"center","baseline":"middle","font":"Liberation Sans","fontSize":9.5,"fill":"#FFFFFF"},
 "encoding":{"x":{"field":"m","type":"quantitative","scale":{"domain":[-0.2125,151.6625]},"title":null},"y":{"field":"q","type":"quantitative","scale":{"domain":[1598.272,1628.741]},"title":null},"text":{"field":"t"}}},
{"data":{"name":"tbox"},
 "mark":{"type":"rect","fill":"#1E90FF"},
 "encoding":{"x":{"field":"b","type":"quantitative","scale":{"domain":[-0.2125,151.6625]},"title":null},"x2":{"field":"b2"},"y":{"field":"p","type":"quantitative","scale":{"domain":[1598.272,1628.741]},"title":null},"y2":{"field":"p2"}}},
{"data":{"name":"tbox"},
 "mark":{"type":"text","align":"center","baseline":"middle","font":"Liberation Sans","fontSize":9,"fill":"#FFFFFF"},
 "encoding":{"x":{"field":"m","type":"quantitative","scale":{"domain":[-0.2125,151.6625]},"title":null},"y":{"field":"q","type":"quantitative","scale":{"domain":[1598.272,1628.741]},"title":null},"text":{"field":"t"}}},
{"data":{"values":[{"b":-0.6,"b2":157.3,"p":1597.34,"p2":1595.9}]},
 "mark":{"type":"rect","fill":"#F0F0F0"},
 "encoding":{"x":{"field":"b","type":"quantitative","scale":{"domain":[-0.2125,151.6625]},"title":null},"x2":{"field":"b2"},"y":{"field":"p","type":"quantitative","scale":{"domain":[1598.272,1628.741]},"title":null},"y2":{"field":"p2"}}},
{"data":{"values":[{"b":-0.6,"b2":157.3,"p":1597.34}]},
 "mark":{"type":"rule","stroke":"#808080","strokeWidth":1},
 "encoding":{"x":{"field":"b","type":"quantitative","scale":{"domain":[-0.2125,151.6625]},"title":null},"x2":{"field":"b2"},"y":{"field":"p","type":"quantitative","scale":{"domain":[1598.272,1628.741]},"title":null}}},
{"data":{"values":[{"b":57.41,"b2":66.91,"p":1597.40,"p2":1595.9}]},
 "mark":{"type":"rect","fill":"#FFFFFF","stroke":"#808080","strokeWidth":1},
 "encoding":{"x":{"field":"b","type":"quantitative","scale":{"domain":[-0.2125,151.6625]},"title":null},"x2":{"field":"b2"},"y":{"field":"p","type":"quantitative","scale":{"domain":[1598.272,1628.741]},"title":null},"y2":{"field":"p2"}}},
{"data":{"values":[{"b":10.35},{"b":21.91},{"b":34.41},{"b":45.91},{"b":77.91},{"b":88.41},{"b":98.79}]},
 "mark":{"type":"rule","stroke":"#A0A0A0","strokeWidth":1},
 "encoding":{"x":{"field":"b","type":"quantitative","scale":{"domain":[-0.2125,151.6625]},"title":null},"y":{"datum":1597.15,"type":"quantitative","scale":{"domain":[1598.272,1628.741]},"title":null},"y2":{"datum":1596.55}}},
{"data":{"name":"tabs"},
 "mark":{"type":"text","align":"center","baseline":"middle","font":"Liberation Sans","fontSize":10},
 "encoding":{"x":{"field":"m","type":"quantitative","scale":{"domain":[-0.2125,151.6625]},"title":null},"y":{"datum":1596.86,"type":"quantitative","scale":{"domain":[1598.272,1628.741]},"title":null},"text":{"field":"t"},
  "fill":{"condition":[{"test":"datum.a==1","value":"#000000"},{"test":"datum.a==2","value":"#A0A0A0"}],"value":"#555555"}}}
]
}
